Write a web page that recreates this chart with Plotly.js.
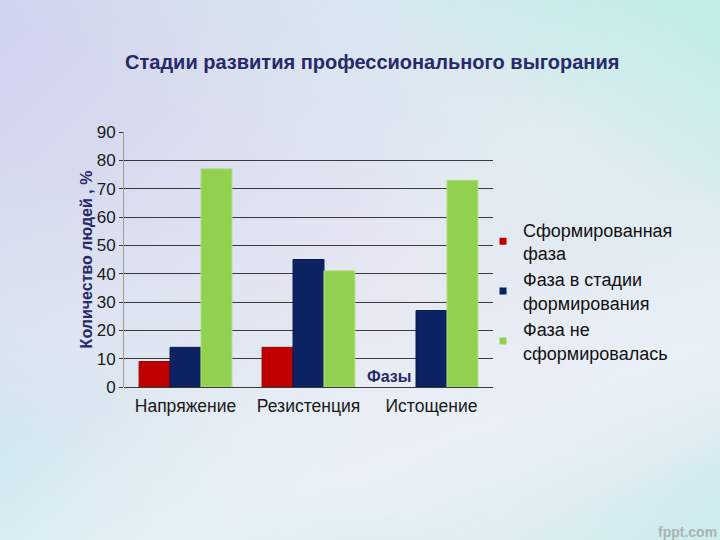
<!DOCTYPE html>
<html>
<head>
<meta charset="utf-8">
<script src="https://cdn.plot.ly/plotly-3.0.1.min.js"></script>
<style>
html,body{margin:0;padding:0;width:720px;height:540px;overflow:hidden;}
body{
  background:
    linear-gradient(160deg, rgba(255,255,255,0) 55%, rgba(240,244,250,0.6) 75%, rgba(255,255,255,0) 90%),
    linear-gradient(25deg, rgba(190,235,235,0.7) 0%, rgba(220,240,242,0.3) 25%, rgba(255,255,255,0) 45%),
    linear-gradient(210deg, rgba(185,238,230,0.9) 0%, rgba(215,240,240,0.4) 25%, rgba(255,255,255,0) 45%),
    linear-gradient(330deg, rgba(200,238,236,0.9) 0%, rgba(220,242,242,0.4) 15%, rgba(255,255,255,0) 30%),
    linear-gradient(135deg, #cfd2ec 0%, #dcdff0 30%, #e6e9f2 55%, #e2e8f2 80%, #dde3f0 100%);
}
#chart{width:720px;height:540px;}
</style>
</head>
<body>
<div id="chart"></div>
<script>
const categories = ["Напряжение", "Резистенция", "Истощение"];
const seriesNames = ["Сформированная<br>фаза", "Фаза в стадии<br>формирования", "Фаза не<br>сформировалась"];
const formed = [9, 14, null];
const forming = [14, 45, 27];
const notFormed = [77, 41, 73];
const yTicks = [0, 10, 20, 30, 40, 50, 60, 70, 80, 90];

const colors = ["#c00000", "#0c2262", "#92d050"];
const lineColors = ["#8a0a0a", "#081a4d", "#b3df85"];
const values = [formed, forming, notFormed];

const traces = values.map((v, i) => ({
  type: "bar",
  x: categories,
  y: v,
  name: seriesNames[i],
  marker: {color: colors[i], line: {color: lineColors[i], width: 1}},
  showlegend: false,
  hoverinfo: "skip"
}));
// legend entries with small square symbols, as in the original
seriesNames.forEach((n, i) => traces.push({
  type: "scatter", mode: "markers",
  x: [null], y: [null],
  name: n,
  marker: {symbol: "square", size: 7, color: colors[i]},
  showlegend: true,
  hoverinfo: "skip"
}));

const layout = {
  width: 720, height: 540,
  paper_bgcolor: "rgba(0,0,0,0)",
  plot_bgcolor: "rgba(0,0,0,0)",
  margin: {l: 124, r: 227, t: 132, b: 153},
  font: {family: "Liberation Sans, Arial, sans-serif", color: "#1a1a1a"},
  title: {
    text: "<b>Стадии развития профессионального выгорания</b>",
    font: {size: 20, color: "#27296a", family: "Liberation Sans, Arial, sans-serif"},
    xref: "container", x: 0.517, xanchor: "center",
    yref: "container", y: 0.885, yanchor: "middle"
  },
  barmode: "group",
  bargap: 0.245,
  bargroupgap: 0,
  showlegend: true,
  legend: {
    x: 0.973, xanchor: "left", y: 0.375, yanchor: "middle",
    font: {size: 18, color: "#111"},
    bgcolor: "rgba(0,0,0,0)",
    tracegroupgap: 0,
    itemwidth: 30
  },
  xaxis: {
    type: "category",
    tickfont: {size: 17.5, color: "#1a1a1a"},
    showgrid: false,
    showline: false,
    ticks: "",
    ticklabelstandoff: 6,
    automargin: false
  },
  yaxis: {
    range: [0, 90],
    tickvals: yTicks,
    ticktext: yTicks.map(String),
    tickfont: {size: 17, color: "#1a1a1a"},
    showgrid: true,
    gridcolor: "#3a3a3a",
    gridwidth: 1,
    zeroline: true,
    zerolinecolor: "#3a3a3a",
    zerolinewidth: 1,
    showline: true,
    linecolor: "#9a9a9a",
    linewidth: 1,
    ticks: "outside",
    ticklen: 4,
    tickcolor: "#3a3a3a",
    title: {
      text: "<b>Количество людей , %</b>",
      font: {size: 16, color: "#27296a"},
      standoff: 0
    },
    automargin: false
  },
  annotations: [
    {
      text: "<b>Фазы</b>",
      xref: "paper", yref: "paper",
      x: 0.718, y: 0.04, xanchor: "center", yanchor: "middle",
      showarrow: false,
      font: {size: 16, color: "#27296a"}
    },
    {
      text: "<b>fppt.com</b>",
      xref: "paper", yref: "paper",
      x: 1.612, y: -0.569, xanchor: "right", yanchor: "middle",
      showarrow: false,
      font: {size: 14, color: "#aab3b4"}
    }
  ]
};

Plotly.newPlot("chart", traces, layout, {displayModeBar: false, staticPlot: true});
</script>
</body>
</html>
